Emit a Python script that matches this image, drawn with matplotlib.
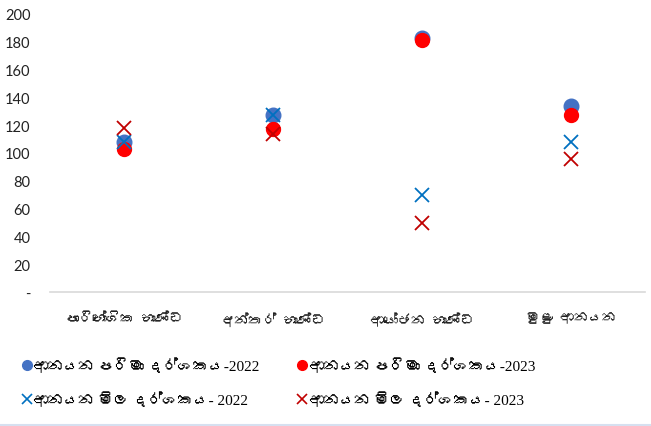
import matplotlib
matplotlib.use('Agg')
import matplotlib.pyplot as plt
from matplotlib import font_manager
from matplotlib.ft2font import FT2Font
from matplotlib.lines import Line2D

# දත්ත
categories = ['පාරිභෝගික භාණ්ඩ', 'අන්තර් භාණ්ඩ', 'ආයෝජන භාණ්ඩ', 'මුළු ආනයන']
volume_2022 = [108, 127, 183, 134]
volume_2023 = [103, 117, 181, 127]
price_2022 = [108, 127, 70, 108]
price_2023 = [118, 114, 50, 96]
yticks = [0, 20, 40, 60, 80, 100, 120, 140, 160, 180, 200]
ytick_labels = ['-', '20', '40', '60', '80', '100', '120', '140', '160', '180', '200']
labels = ['ආනයන පරිමා දර්ශකය-2022', 'ආනයන පරිමා දර්ශකය-2023',
          'ආනයන මිල දර්ශකය- 2022', 'ආනයන මිල දර්ශකය- 2023']


# find a font that has sinhala glyphs, if there is one
def find_sinhala():
    found = []
    for f in font_manager.fontManager.ttflist:
        try:
            cmap = FT2Font(f.fname).get_charmap()
        except Exception:
            continue
        if 0x0D9A in cmap and f.name not in found:
            found.append(f.name)
    return found

sinhala = find_sinhala()
tick_fonts = sinhala + ['Liberation Serif', 'DejaVu Serif']
# digits in the legend look like Times, sinhala falls through to the next font
leg_fonts = ['Liberation Serif'] + sinhala + ['DejaVu Serif']

fig = plt.figure(figsize=(6.51, 4.27), dpi=100)
ax = fig.add_axes([50 / 651, 1 - 293 / 427, 595 / 651, 278 / 427])

x = range(len(categories))
ax.plot(x, volume_2022, 'o', color='#4472C4', markersize=10.5, linestyle='none')
ax.plot(x, volume_2023, 'o', color='#FF0000', markersize=10, linestyle='none')
ax.plot(x, price_2022, 'x', color='#0070C0', markersize=10, mew=1.3, linestyle='none')
ax.plot(x, price_2023, 'x', color='#C00000', markersize=10, mew=1.3, linestyle='none')

ax.set_xlim(-0.5, len(categories) - 0.5)
ax.set_ylim(0, 200)
ax.set_yticks(yticks)
ax.set_yticklabels(ytick_labels, family=['Lato', 'DejaVu Sans'], fontsize=10.5, color='#222222')
ax.set_xticks(list(x))
ax.set_xticklabels(categories, family=tick_fonts, fontsize=10, color='#222222')
ax.tick_params(axis='both', length=0)
ax.tick_params(axis='y', pad=14)
ax.tick_params(axis='x', pad=14)
for s in ['top', 'right', 'left']:
    ax.spines[s].set_visible(False)
ax.spines['bottom'].set_color('#D9D9D9')
ax.spines['bottom'].set_linewidth(1.2)

handles = [
    Line2D([], [], marker='o', color='#4472C4', linestyle='none', markersize=7),
    Line2D([], [], marker='x', color='#0070C0', linestyle='none', markersize=7, mew=1.2),
    Line2D([], [], marker='o', color='#FF0000', linestyle='none', markersize=7),
    Line2D([], [], marker='x', color='#C00000', linestyle='none', markersize=7, mew=1.2),
]
leg_labels = [labels[0], labels[2], labels[1], labels[3]]
fig.legend(handles, leg_labels, ncol=2, loc='upper left',
           bbox_to_anchor=(9 / 651, 1 - 420 / 427, 540 / 651, 75 / 427),
           mode='expand', frameon=False, handlelength=0.5, handletextpad=0.2,
           labelspacing=1.2, prop={'family': leg_fonts, 'size': 11})

# thin frame line at the bottom
fig.add_artist(Line2D([0, 1], [1 / 427, 1 / 427], color='#D6E0F0', lw=1.5))

fig.savefig('out.png', dpi=100)
